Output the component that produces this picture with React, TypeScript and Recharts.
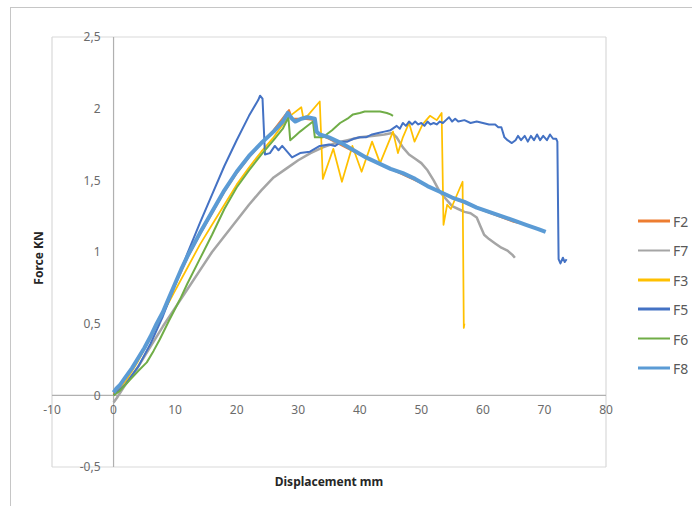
import { LineChart, Line, XAxis, YAxis, CartesianGrid, ReferenceLine, ReferenceDot } from 'recharts';

// ---------------------------------------------------------------------------
// Data (displacement mm, force kN)
// ---------------------------------------------------------------------------

const X_TICKS = [-10, 0, 10, 20, 30, 40, 50, 60, 70, 80];
const Y_TICKS = [-0.5, 0, 0.5, 1, 1.5, 2, 2.5];

const F2_POINTS: [number, number][] = [
  [0, 0.01], [2, 0.12], [4, 0.25], [6, 0.4], [8, 0.57], [10, 0.77], [12, 0.96], [14, 1.12],
  [16, 1.27], [18, 1.42], [20, 1.55], [22, 1.66], [24, 1.76], [26, 1.85], [28.5, 1.99],
  [29, 1.93], [31, 1.93], [32.6, 1.92], [33, 1.83], [35, 1.79], [40, 1.68], [45, 1.58],
  [50, 1.48], [55, 1.38], [60, 1.29], [65, 1.21], [66, 1.2],
];

const F7_POINTS: [number, number][] = [
  [0, -0.05], [0.5, -0.02], [2, 0.08], [4, 0.2], [6, 0.34], [8, 0.48], [10, 0.61], [12, 0.74],
  [14, 0.87], [16, 1.0], [18, 1.11], [20, 1.22], [22, 1.33], [24, 1.43], [26, 1.52],
  [28, 1.58], [30, 1.64], [32, 1.69], [34, 1.73], [36, 1.76], [38, 1.78], [40, 1.8],
  [42, 1.81], [44, 1.82], [45.3, 1.83], [46, 1.8], [47, 1.73], [48, 1.68], [49, 1.65],
  [50, 1.62], [51, 1.57], [52, 1.5], [53, 1.42], [54, 1.37], [55, 1.32], [56, 1.3],
  [57, 1.28], [58, 1.27], [59, 1.24], [59.6, 1.18], [60.2, 1.12], [61, 1.09], [62, 1.06],
  [63, 1.03], [64, 1.01], [64.8, 0.98], [65.2, 0.96],
];

const F3_POINTS: [number, number][] = [
  [0, 0], [2, 0.1], [4, 0.24], [6, 0.4], [8, 0.57], [10, 0.73], [12, 0.89], [14, 1.05],
  [16, 1.19], [18, 1.33], [20, 1.47], [22, 1.59], [24, 1.7], [26, 1.8], [28, 1.92],
  [29, 1.96], [30.5, 2.01], [30.8, 1.94], [31.5, 1.95], [33.5, 2.05], [34, 1.51],
  [35.7, 1.72], [37.1, 1.49], [38.8, 1.74], [40.3, 1.56], [42, 1.77], [43.3, 1.62],
  [45.4, 1.84], [46.2, 1.69], [47, 1.8], [48, 1.9], [48.9, 1.77], [50.2, 1.89],
  [51.4, 1.95], [52.5, 1.92], [53.3, 1.97], [53.6, 1.19], [54.2, 1.33], [54.8, 1.3],
  [56.7, 1.49], [56.9, 0.47], [57, 0.5],
];

const F5_POINTS: [number, number][] = [
  [0, 0], [2, 0.08], [4, 0.2], [6, 0.36], [8, 0.55], [10, 0.77], [12, 0.99], [14, 1.2],
  [16, 1.4], [18, 1.6], [20, 1.78], [22, 1.95], [23.5, 2.06], [23.8, 2.09], [24.2, 2.07],
  [24.6, 1.68], [25.4, 1.69], [26.2, 1.74], [26.8, 1.71], [27.4, 1.74], [28.2, 1.7],
  [29, 1.66], [30.3, 1.69], [31.9, 1.7], [33.5, 1.74], [35, 1.75], [36, 1.74], [37, 1.77],
  [38, 1.77], [39, 1.79], [40, 1.8], [41, 1.8], [42, 1.82], [43, 1.83], [44, 1.84],
  [45, 1.85], [46, 1.88], [46.5, 1.86], [47, 1.9], [47.5, 1.88], [48, 1.91], [48.5, 1.89],
  [49, 1.91], [49.5, 1.89], [50, 1.9], [50.5, 1.88], [51, 1.91], [51.5, 1.89], [52, 1.9],
  [52.5, 1.89], [53, 1.91], [53.5, 1.9], [54, 1.92], [54.5, 1.94], [55, 1.91], [55.5, 1.93],
  [56, 1.91], [57, 1.92], [58, 1.9], [59, 1.91], [60, 1.9], [61, 1.89], [62, 1.89],
  [62.5, 1.87], [63, 1.87], [63.5, 1.8], [64, 1.78], [64.7, 1.76], [65.3, 1.78],
  [65.7, 1.81], [66.2, 1.78], [66.8, 1.81], [67.3, 1.77], [67.8, 1.81], [68.3, 1.78],
  [68.8, 1.82], [69.3, 1.78], [69.8, 1.81], [70.4, 1.78], [70.9, 1.82], [71.4, 1.79],
  [71.9, 1.79], [72.1, 1.77], [72.3, 0.95], [72.6, 0.92], [73, 0.96], [73.3, 0.93], [73.6, 0.95],
];

const F6_POINTS: [number, number][] = [
  [0, 0], [1, 0.03], [2.7, 0.11], [4, 0.17], [5.4, 0.23], [6.5, 0.31], [7.5, 0.39],
  [9, 0.52], [10.8, 0.67], [12, 0.78], [14, 0.95], [16, 1.12], [18, 1.3], [20, 1.45],
  [22, 1.57], [24, 1.68], [26, 1.78], [27.5, 1.86], [28.4, 1.94], [28.7, 1.78], [29.5, 1.81],
  [30.3, 1.84], [31.2, 1.87], [32.4, 1.91], [32.7, 1.8], [34, 1.8], [35.5, 1.85],
  [36.8, 1.9], [38, 1.93], [38.9, 1.96], [40, 1.97], [40.8, 1.98], [42, 1.98], [43.3, 1.98],
  [44.4, 1.97], [45, 1.96], [45.4, 1.95],
];

const F8_POINTS: [number, number][] = [
  [0, 0.02], [0.5, 0.05], [1, 0.07], [2, 0.13], [3, 0.19], [4, 0.26], [5, 0.33], [6, 0.41],
  [7, 0.5], [8, 0.58], [9, 0.68], [10, 0.78], [11, 0.88], [12, 0.97], [13, 1.05], [14, 1.13],
  [16, 1.28], [18, 1.43], [20, 1.56], [22, 1.67], [24, 1.76], [26, 1.84], [27.5, 1.91],
  [28.3, 1.97], [29, 1.93], [29.5, 1.91], [30.5, 1.93], [31.5, 1.94], [32.7, 1.93],
  [33, 1.84], [33.5, 1.82], [35, 1.8], [37, 1.76], [39, 1.71], [41, 1.66], [43, 1.62],
  [45, 1.58], [47, 1.55], [49, 1.51], [51, 1.46], [53, 1.42], [55, 1.38], [57, 1.35],
  [59, 1.31], [61, 1.28], [63, 1.25], [65, 1.22], [67, 1.19], [69, 1.16], [70.2, 1.14],
];

const SERIES = [
  { name: 'F2', color: '#ED7D31', width: 2, points: F2_POINTS },
  { name: 'F7', color: '#A5A5A5', width: 2.5, points: F7_POINTS },
  { name: 'F3', color: '#FFC000', width: 1.75, points: F3_POINTS },
  { name: 'F5', color: '#4472C4', width: 2, points: F5_POINTS },
  { name: 'F6', color: '#70AD47', width: 2, points: F6_POINTS },
  { name: 'F8', color: '#5B9BD5', width: 4, points: F8_POINTS },
];

const fmt = (v: number) => String(v).replace('.', ',');

// ---------------------------------------------------------------------------
// Component
// ---------------------------------------------------------------------------

export default function App() {
  return (
    <div
      style={{
        position: 'absolute',
        left: 0,
        top: 0,
        width: 692,
        height: 506,
        overflow: 'hidden',
        background: '#fff',
        fontFamily: '"Noto Sans", sans-serif',
      }}
    >
      {/* chart frame */}
      <div
        style={{
          position: 'absolute',
          left: 10,
          top: 7,
          width: 720,
          height: 540,
          border: '1px solid #c6c6c6',
        }}
      />

      <div style={{ position: 'absolute', left: 0, top: 0 }}>
        <LineChart width={692} height={506} margin={{ top: 37, right: 86, bottom: 39, left: 52 }}>
          <CartesianGrid stroke="#d9d9d9" strokeWidth={1.2} />
          <XAxis
            dataKey="x"
            type="number"
            domain={[-10, 80]}
            ticks={X_TICKS}
            allowDataOverflow
            height={0}
            axisLine={false}
            tickLine={false}
            tick={false}
          />
          <YAxis
            type="number"
            domain={[-0.5, 2.5]}
            ticks={Y_TICKS}
            allowDataOverflow
            width={0}
            axisLine={false}
            tickLine={false}
            tick={false}
          />
          <ReferenceLine x={0} stroke="#b0b0b0" strokeWidth={1.2} />
          <ReferenceLine y={0} stroke="#b0b0b0" strokeWidth={1.2} />

          {X_TICKS.map((t) => (
            <ReferenceDot
              key={`xt-${t}`}
              x={t}
              y={0}
              r={0}
              fill="none"
              stroke="none"
              label={{ value: fmt(t), position: 'bottom', offset: 10, fill: '#6b6b6b', fontSize: 12 }}
            />
          ))}
          {Y_TICKS.map((t) => (
            <ReferenceDot
              key={`yt-${t}`}
              x={0}
              y={t}
              r={0}
              fill="none"
              stroke="none"
              label={{ value: fmt(t), position: 'left', offset: 13, fill: '#6b6b6b', fontSize: 12 }}
            />
          ))}

          {SERIES.map((s) => (
            <Line
              key={s.name}
              name={s.name}
              data={s.points.map(([x, y]) => ({ x, y }))}
              dataKey="y"
              stroke={s.color}
              strokeWidth={s.width}
              strokeLinejoin="round"
              dot={false}
              activeDot={false}
              isAnimationActive={false}
            />
          ))}
        </LineChart>
      </div>

      {/* axis titles */}
      <div
        style={{
          position: 'absolute',
          left: 38,
          top: 258,
          transform: 'translate(-50%, -50%) rotate(-90deg)',
          fontSize: 12,
          fontWeight: 700,
          color: '#262626',
          whiteSpace: 'nowrap',
        }}
      >
        Force KN
      </div>
      <div
        style={{
          position: 'absolute',
          left: 329,
          top: 481,
          transform: 'translate(-50%, -50%)',
          fontSize: 12,
          fontWeight: 700,
          color: '#262626',
          whiteSpace: 'nowrap',
        }}
      >
        Displacement mm
      </div>

      {/* legend */}
      {SERIES.map((s, i) => (
        <div
          key={`lg-${s.name}`}
          style={{
            position: 'absolute',
            left: 638,
            top: 221 + i * 29.4,
            transform: 'translateY(-50%)',
            display: 'flex',
            alignItems: 'center',
            whiteSpace: 'nowrap',
          }}
        >
          <div style={{ width: 32, height: 2.5, background: s.color }} />
          <span style={{ marginLeft: 3, fontSize: 14, color: '#595959' }}>{s.name}</span>
        </div>
      ))}
    </div>
  );
}
